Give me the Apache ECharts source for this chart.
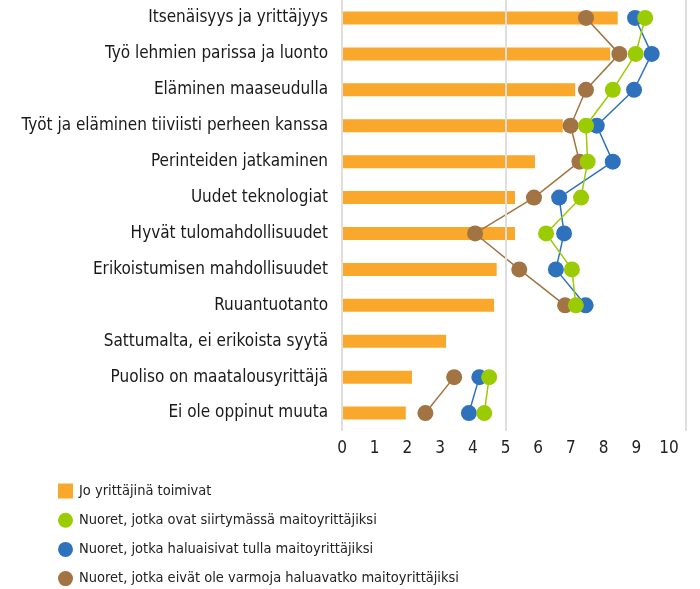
<!DOCTYPE html>
<html>
<head>
<meta charset="utf-8">
<script src="https://cdn.jsdelivr.net/npm/echarts@6/dist/echarts.min.js"></script>
<style>
  html, body { margin: 0; padding: 0; background: #fff; }
  #chart { width: 700px; height: 589px; }
</style>
</head>
<body>
<div id="chart"></div>
<script>
const FONT = "'Liberation Sans Narrow', 'DejaVu Sans Condensed', 'Roboto', sans-serif";

const categories = [
  "Itsenäisyys ja yrittäjyys",
  "Työ lehmien parissa ja luonto",
  "Eläminen maaseudulla",
  "Työt ja eläminen tiiviisti perheen kanssa",
  "Perinteiden jatkaminen",
  "Uudet teknologiat",
  "Hyvät tulomahdollisuudet",
  "Erikoistumisen mahdollisuudet",
  "Ruuantuotanto",
  "Sattumalta, ei erikoista syytä",
  "Puoliso on maatalousyrittäjä",
  "Ei ole oppinut muuta",
];

const seriesNames = [
  "Jo yrittäjinä toimivat",
  "Nuoret, jotka ovat siirtymässä maitoyrittäjiksi",
  "Nuoret, jotka haluaisivat tulla maitoyrittäjiksi",
  "Nuoret, jotka eivät ole varmoja haluavatko maitoyrittäjiksi",
];

const yrittajat = [8.43, 8.2, 7.13, 6.75, 5.9, 5.29, 5.29, 4.73, 4.65, 3.18, 2.14, 1.95];
const siirtymassa = [9.27, 8.98, 8.28, 7.46, 7.51, 7.31, 6.24, 7.03, 7.15, null, 4.5, 4.35];
const haluaisivat = [8.96, 9.47, 8.93, 7.79, 8.28, 6.64, 6.79, 6.54, 7.45, null, 4.2, 3.88];
const eivatVarmoja = [7.46, 8.48, 7.46, 6.99, 7.26, 5.87, 4.07, 5.42, 6.82, null, 3.43, 2.55];

const xTicks = [0, 1, 2, 3, 4, 5, 6, 7, 8, 9, 10];
const gridLines = [0, 5, 10.5];

const COLORS = {
  bar: "#F9A82B",
  green: "#9BCB03",
  blue: "#2E72BE",
  brown: "#A27444",
};

const chart = echarts.init(document.getElementById("chart"), null, { renderer: "canvas" });

const lineSeries = (name, data, color, z) => ({
  type: "line",
  name: name,
  data: data,
  z: z,
  connectNulls: false,
  symbol: "circle",
  symbolSize: 16,
  itemStyle: { color: color, borderWidth: 0 },
  lineStyle: { color: color, width: 1.5 },
});

chart.setOption({
  animation: false,
  backgroundColor: "#fff",
  textStyle: { fontFamily: FONT },
  grid: { left: 342, right: 14.6, top: 0, bottom: 158, containLabel: false },
  legend: {
    orient: "vertical",
    left: 53,
    top: 478.5,
    height: 200,
    itemWidth: 15,
    itemHeight: 15,
    itemGap: 14.2,
    data: [
      { name: seriesNames[0], icon: "rect" },
      { name: seriesNames[1], icon: "circle" },
      { name: seriesNames[2], icon: "circle" },
      { name: seriesNames[3], icon: "circle" },
    ],
    textStyle: { fontFamily: FONT, fontSize: 14.5, color: "#222", padding: [0, 0, 0, 1] },
  },
  xAxis: {
    type: "value",
    min: 0,
    max: 10.5,
    interval: 1,
    axisLine: { show: false },
    axisTick: { show: false },
    splitLine: { show: false },
    axisLabel: {
      margin: 9,
      fontFamily: FONT,
      fontSize: 17,
      color: "#222",
      formatter: (v) => (xTicks.includes(v) ? String(v) : ""),
    },
  },
  yAxis: {
    type: "category",
    inverse: true,
    data: categories,
    axisLine: { show: false },
    axisTick: { show: false },
    axisLabel: { margin: 14, fontFamily: FONT, fontSize: 17, color: "#1a1a1a" },
  },
  series: [
    {
      type: "line",
      name: "grid",
      data: [],
      z: 0,
      silent: true,
      markLine: {
        silent: true,
        symbol: "none",
        label: { show: false },
        lineStyle: { color: "#dedede", type: "solid", width: 2 },
        data: gridLines.map((v) => ({ xAxis: v })),
      },
    },
    {
      type: "bar",
      name: seriesNames[0],
      data: yrittajat,
      barWidth: 13,
      z: 2,
      itemStyle: { color: COLORS.bar },
    },
    lineSeries(seriesNames[3], eivatVarmoja, COLORS.brown, 3),
    lineSeries(seriesNames[2], haluaisivat, COLORS.blue, 4),
    lineSeries(seriesNames[1], siirtymassa, COLORS.green, 5),
  ],
});
</script>
</body>
</html>
